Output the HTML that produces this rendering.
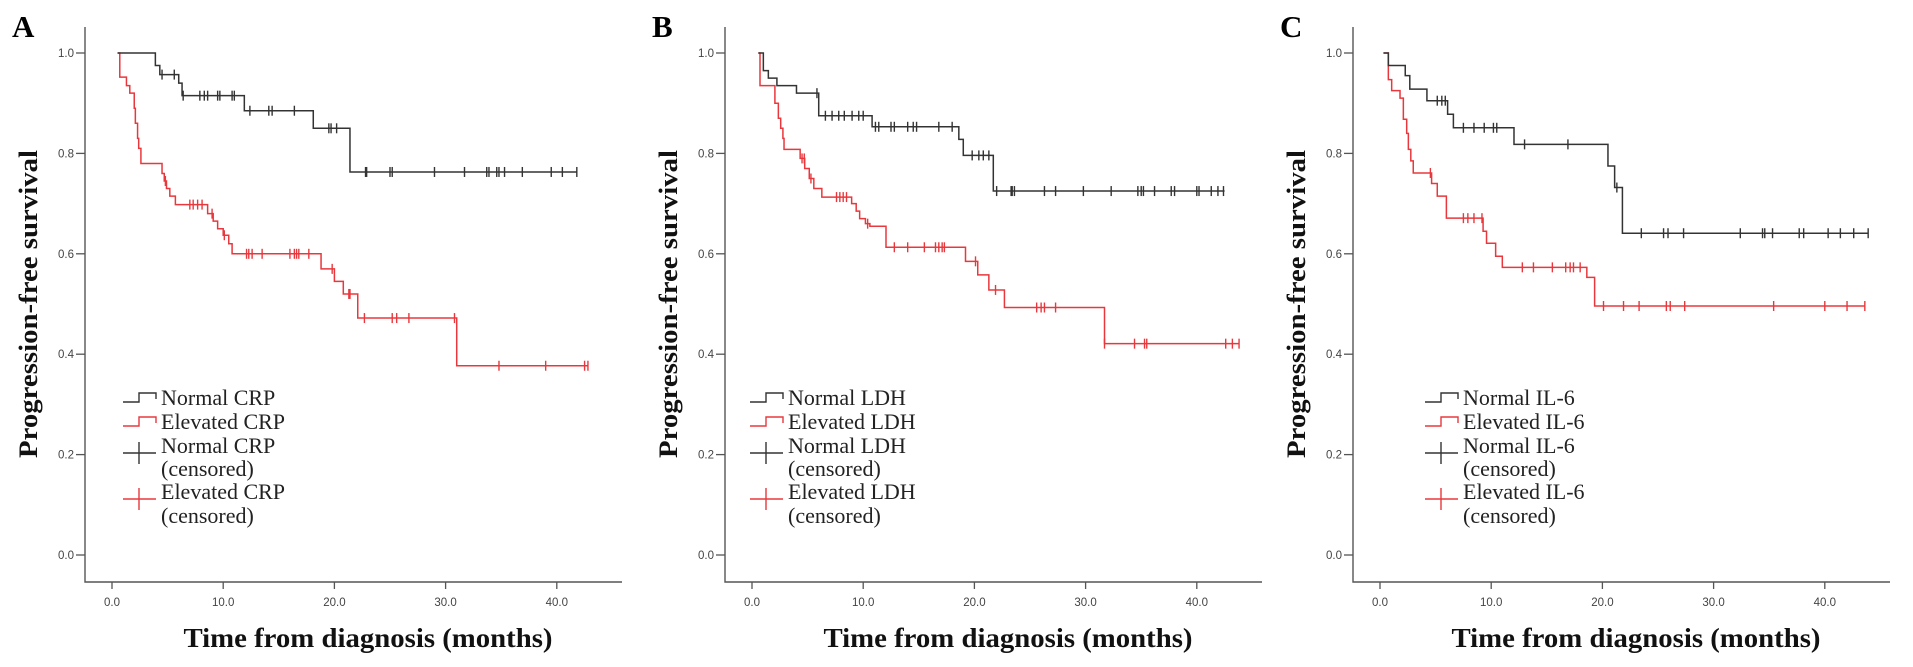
<!DOCTYPE html>
<html><head><meta charset="utf-8">
<style>
html,body{margin:0;padding:0;background:#fff;}
svg{display:block;}
</style></head>
<body>
<svg id="chart" width="1913" height="667" viewBox="0 0 1913 667" xmlns="http://www.w3.org/2000/svg"></svg>
<script>
// ---------- data ----------
const xTickLabels = ["0.0","10.0","20.0","30.0","40.0"];
const xTickValues = [0,10,20,30,40];
const yTickLabels = ["0.0","0.2","0.4","0.6","0.8","1.0"];
const yTickValues = [0,0.2,0.4,0.6,0.8,1.0];
const panelLetters = ["A","B","C"];
const markerNames = ["CRP","LDH","IL-6"];

// Panel A (CRP)
const aNormT = [0.5,3.9,4.3,6.0,6.3,11.9,18.1,21.4];
const aNormS = [1,0.975,0.957,0.94,0.915,0.885,0.85,0.763];
const aNormEnd = 41.8;
const aNormC = [4.5,5.6,6.4,7.9,8.3,8.6,9.5,9.7,10.8,11.0,12.4,14.1,14.4,16.4,19.5,19.7,20.2,22.8,22.9,25.0,25.2,29.0,31.7,33.7,33.9,34.6,34.8,35.3,36.9,39.5,40.5,41.8];
const aElevT = [0.5,0.7,1.3,1.6,2.0,2.1,2.3,2.4,2.6,4.5,4.7,4.9,5.2,5.7,8.6,9.1,9.5,10.0,10.5,10.8,18.8,20.0,20.8,22.1,31.0];
const aElevS = [1,0.952,0.935,0.92,0.89,0.86,0.83,0.81,0.78,0.76,0.745,0.73,0.715,0.698,0.68,0.665,0.65,0.637,0.62,0.6,0.57,0.545,0.52,0.472,0.377];
const aElevEnd = 42.8;
const aElevC = [4.8,7.0,7.3,7.7,8.1,9.0,10.1,12.1,12.3,12.6,13.5,16.0,16.4,16.6,16.8,17.7,19.8,21.3,21.4,22.7,25.2,25.6,26.7,30.8,34.8,39.0,42.5,42.8];

// Panel B (LDH)
const bNormT = [0.57,1.02,1.47,2.24,4.0,6.0,10.8,18.6,19.0,21.7];
const bNormS = [1,0.965,0.95,0.935,0.92,0.875,0.853,0.828,0.796,0.725];
const bNormEnd = 42.5;
const bNormC = [5.84,6.6,7.2,7.8,8.3,9.0,9.6,10.0,11.1,11.4,12.5,12.8,14.0,14.5,14.8,16.8,18.0,19.8,20.4,20.8,21.3,22.0,23.3,23.4,23.6,26.3,27.3,29.8,32.3,34.7,35.0,35.2,36.2,37.7,38.0,40.0,40.2,41.3,41.9,42.4];
const bElevT = [0.57,0.72,2.06,2.37,2.58,2.78,2.88,4.33,4.74,5.15,5.56,6.28,8.96,9.37,9.68,10.2,10.6,12.05,19.2,20.3,21.3,22.7,31.7];
const bElevS = [1,0.935,0.9,0.87,0.85,0.83,0.808,0.79,0.77,0.75,0.73,0.713,0.7,0.685,0.67,0.66,0.655,0.613,0.585,0.558,0.528,0.493,0.421];
const bElevEnd = 43.8;
const bElevC = [4.5,4.7,5.3,7.6,7.9,8.2,8.5,10.4,12.8,14.0,15.5,16.5,16.8,17.1,17.3,20.1,21.9,25.6,26.0,26.3,27.3,31.7,34.4,35.3,35.5,42.6,43.2,43.8];

// Panel C (IL-6)
const cNormT = [0.31,0.75,2.27,2.68,4.22,6.08,6.6,12.05,20.5,21.1,21.8];
const cNormS = [1,0.975,0.955,0.928,0.905,0.878,0.851,0.818,0.775,0.732,0.641];
const cNormEnd = 43.9;
const cNormC = [5.15,5.56,5.87,7.5,8.45,9.37,10.2,10.5,13.0,16.9,21.3,23.5,25.5,25.9,27.3,32.4,34.4,34.6,35.3,37.7,38.1,40.3,41.4,42.6,43.9];
const cElevT = [0.31,0.75,1.05,1.8,2.1,2.4,2.55,2.77,2.99,4.64,5.15,5.97,9.27,9.58,10.4,11.0,18.6,19.3];
const cElevS = [1,0.947,0.925,0.91,0.868,0.84,0.808,0.785,0.761,0.74,0.715,0.671,0.645,0.621,0.595,0.573,0.553,0.496];
const cElevEnd = 43.6;
const cElevC = [4.53,7.5,7.9,8.45,9.17,12.8,13.8,15.5,16.7,17.1,17.4,18.0,20.1,21.9,23.3,25.75,26.1,27.4,35.4,40.0,42.0,43.6];

const panelData = [
  {nT:aNormT,nS:aNormS,nE:aNormEnd,nC:aNormC,eT:aElevT,eS:aElevS,eE:aElevEnd,eC:aElevC},
  {nT:bNormT,nS:bNormS,nE:bNormEnd,nC:bNormC,eT:bElevT,eS:bElevS,eE:bElevEnd,eC:bElevC},
  {nT:cNormT,nS:cNormS,nE:cNormEnd,nC:cNormC,eT:cElevT,eS:cElevS,eE:cElevEnd,eC:cElevC}
];

// ---------- layout ----------
const NS = "http://www.w3.org/2000/svg";
const svg = document.getElementById("chart");
const axisXs = [85,725,1353];
const legendTextXs = [161,788,1463];
const AX_W = 537, AX_TOP = 27, AX_BOT = 582, Y0 = 555, Y1 = 53, X0OFF = 27, PX_PER_MONTH = 11.12;
const LEG_DY = 11;
const BLACK = "#333", RED = "#e8383d";

function el(tag, attrs, parent){
  const e = document.createElementNS(NS, tag);
  for (const k in attrs) e.setAttribute(k, attrs[k]);
  (parent||svg).appendChild(e);
  return e;
}
function surv(T,S,t){ let s=S[0]; for(let i=0;i<T.length;i++){ if(T[i]<=t) s=S[i]; } return s; }

panelData.forEach((d,p)=>{
  const ax = axisXs[p];
  const xs = t => ax + X0OFF + t*PX_PER_MONTH;
  const ys = v => Y0 - v*(Y0-Y1);
  const g = el("g",{});
  
  

  const letter = el("text",{x:ax-73,y:37,"font-family":"Liberation Serif, serif","font-weight":"bold","font-size":"31"},g);
  letter.textContent = panelLetters[p];
  
  

  const axes = el("path",{d:`M${ax},${AX_TOP}V${AX_BOT}H${ax+AX_W}`,stroke:"#555","stroke-width":"1.4",fill:"none"},g);
  
  

  yTickValues.forEach((v,i)=>{
    const t = el("line",{x1:ax-9,x2:ax,y1:ys(v),y2:ys(v),stroke:"#555","stroke-width":"1.3"},g);
    
    
    const l = el("text",{x:ax-11,y:ys(v)+4,"text-anchor":"end","font-family":"Liberation Sans, sans-serif","font-size":"11.5",fill:"#444"},g);
    l.textContent = yTickLabels[i];
    
    
  });
  xTickValues.forEach((v,i)=>{
    const t = el("line",{x1:xs(v),x2:xs(v),y1:AX_BOT,y2:AX_BOT+7,stroke:"#555","stroke-width":"1.3"},g);
    
    
    const l = el("text",{x:xs(v),y:AX_BOT+24,"text-anchor":"middle","font-family":"Liberation Sans, sans-serif","font-size":"11.5",fill:"#444"},g);
    l.textContent = xTickLabels[i];
    
    
  });

  const yt = el("text",{transform:`translate(${ax-48},304) rotate(-90)`,"text-anchor":"middle","font-family":"Liberation Serif, serif","font-weight":"bold","font-size":"26",textLength:"308",lengthAdjust:"spacingAndGlyphs",fill:"#111"},g);
  yt.textContent = "Progression-free survival";
  
  
  const xt = el("text",{x:ax+283,y:647,"text-anchor":"middle","font-family":"Liberation Serif, serif","font-weight":"bold","font-size":"27",textLength:"369",lengthAdjust:"spacingAndGlyphs",fill:"#111"},g);
  xt.textContent = "Time from diagnosis (months)";
  
  

  function curve(T,S,E,C,color,name){
    let dd = `M${xs(T[0])},${ys(S[0])}`;
    for(let i=1;i<T.length;i++){ dd += `H${xs(T[i])}V${ys(S[i])}`; }
    dd += `H${xs(E)}`;
    const pth = el("path",{d:dd,stroke:color,"stroke-width":"1.5",fill:"none"},g);
    
    
    C.forEach(t=>{
      const y = ys(surv(T,S,t));
      const c = el("line",{x1:xs(t),x2:xs(t),y1:y-5,y2:y+5,stroke:color,"stroke-width":"1.4"},g);
      
      
    });
  }
  curve(d.eT,d.eS,d.eE,d.eC,RED,"elevated");
  curve(d.nT,d.nS,d.nE,d.nC,BLACK,"normal");

  // legend
  const lx = legendTextXs[p];
  const lg = el("g",{"font-family":"Liberation Serif, serif","font-size":"22",transform:`translate(0,${LEG_DY})`},g);
  
  
  const m = markerNames[p];
  const s1 = el("path",{d:`M${lx-38},${391}H${lx-22}V${382}H${lx-5}V${388}`,stroke:BLACK,"stroke-width":"1.4",fill:"none"},lg);
  
  
  const s2 = el("path",{d:`M${lx-38},${415}H${lx-22}V${406}H${lx-5}V${412}`,stroke:RED,"stroke-width":"1.4",fill:"none"},lg);
  
  
  const s3 = el("path",{d:`M${lx-38},${442}H${lx-5}M${lx-22},${431}V${453}`,stroke:BLACK,"stroke-width":"1.4",fill:"none"},lg);
  
  
  const s4 = el("path",{d:`M${lx-38},${488}H${lx-5}M${lx-22},${477}V${499}`,stroke:RED,"stroke-width":"1.4",fill:"none"},lg);
  
  
  const lines = [["Normal "+m,394],["Elevated "+m,418],["Normal "+m,442],["(censored)",465],["Elevated "+m,488],["(censored)",512]];
  lines.forEach(([txt,y])=>{
    const t = el("text",{x:lx,y:y,fill:"#222"},lg);
    t.textContent = txt;
    
    
  });
});
</script>
</body></html>
